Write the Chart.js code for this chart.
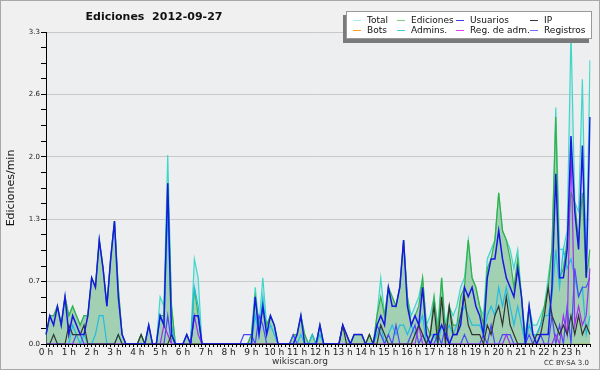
<!DOCTYPE html>
<html>
<head>
<meta charset="utf-8">
<script src="https://cdn.jsdelivr.net/npm/chart.js@4/dist/chart.umd.min.js"></script>
<style>
	body { margin: 0; background: #fff; }
	#wrap { position: relative; width: 600px; height: 370px; }
	#chart { position: absolute; left: 0; top: 0; }
	#legend {
		position: absolute; left: 346px; top: 11px; width: 244px; height: 26px;
		background: #fff; border: 1px solid #999; box-shadow: -3px 4px 0 #7a7a7a;
		font: 9px "DejaVu Sans", sans-serif; color: #111;
	}
	.legend-item { position: absolute; white-space: nowrap; line-height: 10px; }
	.legend-line { display: inline-block; width: 8px; height: 0; border-top: 1px solid; vertical-align: middle; margin-right: 6px; }
</style>
</head>
<body>
<div id="wrap">
	<canvas id="chart" width="600" height="370"></canvas>
	<div id="legend"></div>
</div>
<script>
/* =============================================
   Ediciones 2012-09-27 — una muestra cada 10 min
   ============================================= */

// ─── Data (ediciones / min) ────────────────────
const hours = ["0 h","1 h","2 h","3 h","4 h","5 h","6 h","7 h","8 h","9 h","10 h","11 h",
	"12 h","13 h","14 h","15 h","16 h","17 h","18 h","19 h","20 h","21 h","22 h","23 h"];
const yMajorTicks = [0, 0.66, 1.32, 1.98, 2.64, 3.3];

const total = [
	0.1,0.3,0.3,0.4,0.2,0.5, 0.3,0.4,0.3,0.2,0.3,0.3,
	0.7,0.6,1.1,0.8,0.4,0.9, 1.3,0.6,0.1,0,0,0,
	0,0.1,0,0.2,0,0, 0.5,0.4,2.0,0.4,0,0,
	0,0.1,0,0.9,0.7,0, 0,0,0,0,0,0,
	0,0,0,0,0,0, 0.1,0.6,0.2,0.7,0.2,0.3,
	0.2,0,0,0,0,0.1, 0.1,0.3,0.1,0,0.1,0,
	0.2,0,0,0,0,0, 0.2,0.1,0,0.1,0.1,0.1,
	0,0.1,0,0.3,0.7,0.3, 0.6,0.5,0.4,0.6,1.1,0.5,
	0.3,0.4,0.5,0.7,0.2,0.3, 0.5,0.2,0.7,0.2,0.4,0.3,
	0.4,0.6,0.7,1.1,0.7,0.6, 0.4,0.3,0.9,1.0,1.1,1.6,
	1.2,1.1,1.0,0.8,1.0,0.5, 0.1,0.4,0.2,0.2,0.3,0.4,
	0.7,1.0,2.5,1.0,1.0,1.2, 3.3,1.5,1.4,2.8,0.8,3.0
];
const ediciones = [
	0.1,0.3,0.3,0.4,0.2,0.5, 0.3,0.4,0.3,0.2,0.3,0.3,
	0.7,0.6,1.1,0.8,0.4,0.9, 1.3,0.6,0.1,0,0,0,
	0,0.1,0,0.2,0,0, 0.3,0.3,1.7,0.4,0,0,
	0,0.1,0,0.6,0.3,0, 0,0,0,0,0,0,
	0,0,0,0,0,0, 0.1,0.5,0.2,0.4,0.2,0.3,
	0.2,0,0,0,0,0.1, 0.1,0.3,0.1,0,0.1,0,
	0.2,0,0,0,0,0, 0.2,0.1,0,0.1,0.1,0.1,
	0,0.1,0,0.3,0.5,0.3, 0.6,0.5,0.4,0.6,1.1,0.5,
	0.2,0.3,0.4,0.7,0.2,0.1, 0.5,0.1,0.7,0.1,0.4,0.2,
	0.2,0.5,0.6,1.1,0.7,0.6, 0.4,0.2,0.8,0.9,1.1,1.6,
	1.2,1.1,0.9,0.6,0.9,0.5, 0,0.4,0.1,0.1,0.2,0.4,
	0.6,1.0,2.4,0.7,0.8,1.1, 1.6,1.5,1.1,1.6,0.7,1.0
];
const usuarios = [
	0.1,0.3,0.2,0.4,0.2,0.5, 0.1,0.3,0.2,0.1,0.1,0.3,
	0.7,0.6,1.1,0.8,0.4,0.9, 1.3,0.5,0.1,0,0,0,
	0,0,0,0.2,0,0, 0.3,0.2,1.7,0.1,0,0,
	0,0.1,0,0.3,0.3,0, 0,0,0,0,0,0,
	0,0,0,0,0,0, 0,0.5,0.1,0.4,0.1,0.3,
	0.2,0,0,0,0,0, 0.1,0.3,0,0,0,0,
	0.2,0,0,0,0,0, 0.2,0.1,0,0.1,0.1,0.1,
	0,0,0,0.2,0.3,0.2, 0.6,0.4,0.4,0.6,1.1,0.4,
	0.2,0.3,0.2,0.6,0.1,0, 0.1,0.1,0.2,0.1,0,0.1,
	0.1,0.2,0.6,0.5,0.6,0.4, 0.3,0.1,0.7,0.9,0.9,1.2,
	0.9,0.7,0.6,0.5,0.8,0.5, 0,0.4,0.1,0,0.1,0.1,
	0.1,0.6,1.8,0.7,0.7,1.0, 2.2,1.4,1.0,2.1,0.7,2.4
];
const ip = [
	0,0,0.1,0,0,0, 0.2,0.1,0.1,0.1,0.2,0,
	0,0,0,0,0,0, 0,0.1,0,0,0,0,
	0,0.1,0,0,0,0, 0,0,0,0.1,0,0,
	0,0,0,0,0,0, 0,0,0,0,0,0,
	0,0,0,0,0,0, 0,0,0,0,0,0,
	0,0,0,0,0,0, 0,0,0,0,0,0,
	0,0,0,0,0,0, 0.2,0,0,0,0,0,
	0,0.1,0,0,0.2,0.1, 0,0,0,0,0,0,
	0,0.1,0.2,0.1,0,0.1, 0.4,0,0.5,0,0.4,0.1,
	0.1,0.3,0.5,0.2,0.1,0.1, 0.1,0,0.2,0.1,0.3,0.4,
	0.2,0.5,0.2,0.1,0,0, 0,0,0,0.1,0.1,0.3,
	0.6,0.3,0.2,0.1,0.2,0.1, 0.3,0.1,0.3,0.1,0.2,0.1
];
const bots = [
	0,0,0,0,0,0, 0,0,0,0,0,0,
	0,0,0,0,0,0, 0,0,0,0,0,0,
	0,0,0,0,0,0, 0,0,0,0,0,0,
	0,0,0,0,0,0, 0,0,0,0,0,0,
	0,0,0,0,0,0, 0,0,0,0,0,0,
	0,0,0,0,0,0, 0,0,0,0,0,0,
	0,0,0,0,0,0, 0,0,0,0,0,0,
	0,0,0,0,0,0, 0,0,0,0,0,0,
	0,0,0,0,0,0, 0,0,0,0,0,0,
	0,0,0,0,0,0, 0,0,0,0,0,0,
	0,0,0,0,0,0, 0,0,0,0,0,0,
	0,0,0,0,0,0, 0,0,0,0,0,0
];
const admins = [
	0,0,0,0,0,0, 0,0.2,0.1,0,0.1,0,
	0,0.1,0.3,0.3,0,0, 0,0.1,0,0,0,0,
	0,0,0,0,0,0, 0.3,0.2,1.4,0.2,0,0,
	0,0,0,0.6,0.4,0, 0,0,0,0,0,0,
	0,0,0,0,0,0, 0,0.3,0.1,0.5,0.1,0.2,
	0.1,0,0,0,0,0, 0,0.1,0,0,0.1,0,
	0.1,0,0,0,0,0, 0,0,0,0,0,0,
	0,0,0,0.1,0.2,0, 0.1,0.2,0.1,0.2,0.2,0.1,
	0.2,0.1,0.2,0.3,0,0.1, 0.1,0,0.2,0.1,0.2,0.1,
	0.2,0.3,0.4,0.3,0.2,0.2, 0.2,0.1,0.3,0.4,0.3,0.6,
	0.4,0.6,0.4,0.2,0.4,0.2, 0,0.2,0.1,0.1,0.2,0.3,
	0.3,0.5,1.0,0.6,1.0,0.8, 0.9,0.7,0.5,0.6,0.1,0.3
];
const regAdm = [
	0,0,0,0,0,0, 0,0,0,0,0,0,
	0,0,0,0,0,0, 0,0,0,0,0,0,
	0,0,0,0,0,0, 0,0.2,0.1,0,0,0,
	0,0,0,0.3,0.1,0, 0,0,0,0,0,0,
	0,0,0,0,0,0, 0,0,0,0,0,0,
	0,0,0,0,0,0, 0,0,0,0,0,0,
	0,0,0,0,0,0, 0,0,0,0,0,0,
	0,0,0,0,0,0, 0,0,0,0,0,0,
	0,0,0.2,0,0,0, 0,0,0,0,0,0,
	0,0,0,0,0,0, 0,0,0,0,0,0,
	0,0.1,0,0,0,0, 0,0,0,0,0,0,
	0,0,0.1,0,0.3,0.1, 2.1,0.2,0.4,0.2,0.3,0.8
];
const registros = [
	0,0,0,0,0,0, 0,0,0.1,0.1,0,0,
	0,0,0,0,0,0, 0,0,0,0,0,0,
	0,0,0,0,0,0, 0,0,0.3,0,0,0,
	0,0,0,0.3,0.3,0, 0,0,0,0,0,0,
	0,0,0,0,0.1,0.1, 0.1,0,0.3,0.2,0,0,
	0,0,0,0,0,0.1, 0,0,0,0,0,0,
	0,0,0,0,0,0, 0,0,0,0,0,0,
	0,0,0,0.2,0.1,0, 0.1,0,0.2,0,0,0,
	0.1,0.2,0,0.1,0,0, 0,0.1,0,0.2,0,0,
	0,0,0.1,0,0,0, 0,0.1,0,0.2,0,0,
	0.1,0.1,0.1,0,0,0, 0,0.1,0,0,0.1,0,
	0,0.3,0,0.2,0,0.4, 0,0.8,0.5,0.6,0.6,0.7
];

// ─── Helpers ───────────────────────────────────
const FONT = "DejaVu Sans";
const timeLabels = [];
hours.forEach((h) => {
	timeLabels.push(h);
	for (let k = 1; k < 6; k++) timeLabels.push("");
});

// tick marks: 4 subdivisions between each labelled tick
const yTicks = [];
yMajorTicks.forEach((v, i) => {
	if (i === 0) { yTicks.push(v); return; }
	const prev = yMajorTicks[i - 1];
	for (let k = 1; k <= 4; k++) yTicks.push(prev + ((v - prev) * k) / 4);
});

// order: smaller draws on top
const series = [
	{ name: "Total", data: total, color: "#3fd8c8", legend: "#a8eeee", fill: "rgba(175,215,232,0.4)", order: 7 },
	{ name: "Ediciones", data: ediciones, color: "#36b044", legend: "#7ed07e", fill: "rgba(60,168,60,0.33)", order: 6 },
	{ name: "Usuarios", data: usuarios, color: "#1818e0", legend: "#3a3af0", order: 1, width: 1.5 },
	{ name: "IP", data: ip, color: "#333333", legend: "#333333", order: 2 },
	{ name: "Bots", data: bots, color: "#ffa020", legend: "#ffa020", order: 8 },
	{ name: "Admins.", data: admins, color: "#22bde0", legend: "#3cd2e6", order: 5 },
	{ name: "Reg. de adm.", data: regAdm, color: "#a030ee", legend: "#e040f0", order: 3 },
	{ name: "Registros", data: registros, color: "#4a4af5", legend: "#7070ff", order: 4 },
];

// ─── Legend (HTML) ─────────────────────────────
const legendCols = [6, 50, 109, 183];
const legendRows = [3, 13];
const legend = document.getElementById("legend");
legend.innerHTML = series
	.map(
		(s, i) => `
	<div class="legend-item" style="left:${legendCols[i % 4]}px;top:${legendRows[Math.floor(i / 4)]}px">
		<span class="legend-line" style="border-color:${s.legend}"></span>${s.name}
	</div>`
	)
	.join("");

// ─── Decorations ───────────────────────────────
const framePlugin = {
	id: "frame",
	beforeDraw(chart) {
		const { ctx, chartArea: a } = chart;
		ctx.save();
		ctx.fillStyle = "#f0f0f0";
		ctx.fillRect(0, 0, chart.width, chart.height);
		ctx.fillStyle = "#eceef0";
		ctx.fillRect(a.left, a.top, a.right - a.left, a.bottom - a.top);
		ctx.restore();
	},
	afterDraw(chart) {
		const { ctx, chartArea: a } = chart;
		ctx.save();
		ctx.fillStyle = "#111";
		ctx.textAlign = "center";
		ctx.textBaseline = "middle";
		ctx.font = `bold 11px "${FONT}"`;
		ctx.fillText("Ediciones  2012-09-27", 154, 17);

		ctx.font = `11px "${FONT}"`;
		ctx.translate(11, (a.top + a.bottom) / 2);
		ctx.rotate(-Math.PI / 2);
		ctx.fillText("Ediciones/min", 0, 0);
		ctx.setTransform(1, 0, 0, 1, 0, 0);

		ctx.fillStyle = "#333";
		ctx.font = `9px "${FONT}"`;
		ctx.fillText("wikiscan.org", 300, 362);
		ctx.textAlign = "right";
		ctx.font = `7px "${FONT}"`;
		ctx.fillText("CC BY-SA 3.0", 589, 363);

		ctx.strokeStyle = "#a8a8a8";
		ctx.lineWidth = 1;
		ctx.strokeRect(0.5, 0.5, chart.width - 1, chart.height - 1);
		ctx.restore();
	},
};

// ─── Chart ─────────────────────────────────────
new Chart(document.getElementById("chart").getContext("2d"), {
	type: "line",
	data: {
		labels: timeLabels,
		datasets: series.map((s) => ({
			label: s.name,
			data: s.data,
			borderColor: s.color,
			borderWidth: s.width || 1.2,
			backgroundColor: s.fill || s.color,
			fill: s.fill ? "origin" : false,
			order: s.order,
			pointRadius: 0,
			tension: 0,
		})),
	},
	options: {
		responsive: false,
		animation: false,
		devicePixelRatio: 1,
		layout: { padding: { top: 32, right: 10, left: 0, bottom: 0 } },
		plugins: { legend: { display: false }, tooltip: { enabled: false } },
		scales: {
			x: {
				z: 1,
				grid: { drawOnChartArea: false, drawTicks: true, tickLength: 3, tickColor: "#000" },
				border: { color: "#000" },
				ticks: {
					autoSkip: false,
					maxRotation: 0,
					padding: 0,
					color: "#222",
					font: { family: FONT, size: 9 },
					callback: (v, i) => timeLabels[i],
				},
				afterFit: (s) => { s.height = 26; },
			},
			y: {
				min: 0,
				max: 3.3,
				afterBuildTicks: (s) => { s.ticks = yTicks.map((v) => ({ value: v })); },
				grid: {
					color: (c) => (c.index % 4 === 0 && c.index > 0 ? "#c8c8c8" : "rgba(0,0,0,0)"),
					tickColor: "#000",
					tickLength: 5,
				},
				border: { color: "#000" },
				ticks: {
					padding: 1,
					color: "#222",
					font: { family: FONT, size: 7 },
					callback: (v, i) => (i % 4 === 0 ? v.toFixed(1) : ""),
				},
				afterFit: (s) => { s.width = 46; },
			},
		},
	},
	plugins: [framePlugin],
});
</script>
</body>
</html>
